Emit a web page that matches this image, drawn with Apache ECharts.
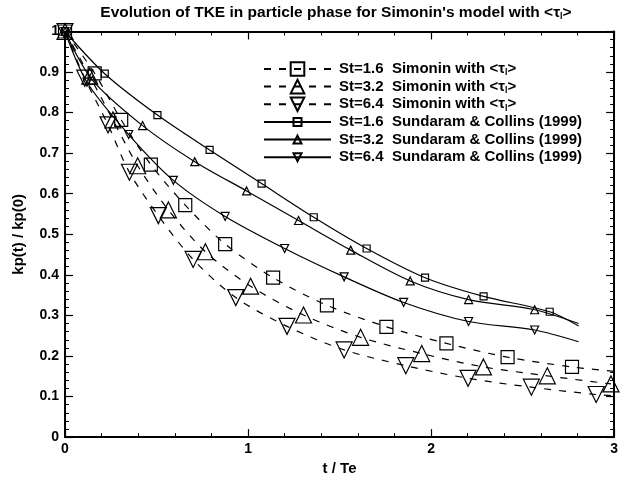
<!DOCTYPE html>
<html><head><meta charset="utf-8">
<script src="https://cdn.jsdelivr.net/npm/echarts@6/dist/echarts.min.js"></script>
<style>html,body{margin:0;padding:0;background:#fff}#c{width:621px;height:481px}</style>
</head><body><div id="c"></div><script>
// ---- data (t / Te, kp(t)/kp(0)) ----
var simT16 = [0, 0.162, 0.307, 0.469, 0.657, 0.875, 1.137, 1.431, 1.756, 2.084, 2.418, 2.77, 3.0];
var simV16 = [1, 0.897, 0.782, 0.672, 0.572, 0.476, 0.393, 0.325, 0.272, 0.231, 0.197, 0.173, 0.162];
var simT32 = [0, 0.135, 0.262, 0.397, 0.565, 0.767, 1.014, 1.303, 1.615, 1.949, 2.286, 2.635, 2.983];
var simV32 = [1, 0.89, 0.782, 0.669, 0.560, 0.457, 0.372, 0.301, 0.246, 0.206, 0.173, 0.151, 0.131];
var simT64 = [0, 0.108, 0.235, 0.352, 0.51, 0.70, 0.933, 1.213, 1.525, 1.862, 2.202, 2.548, 2.902, 3.0];
var simV64 = [1, 0.885, 0.770, 0.653, 0.546, 0.438, 0.344, 0.273, 0.215, 0.176, 0.145, 0.123, 0.105, 0.102];
var sunT16 = [0, 0.217, 0.505, 0.79, 1.074, 1.359, 1.648, 1.967, 2.287, 2.648, 2.806];
var sunV16 = [1, 0.896, 0.794, 0.708, 0.625, 0.542, 0.465, 0.393, 0.347, 0.309, 0.274];
var sunT32 = [0, 0.15, 0.424, 0.709, 0.992, 1.276, 1.561, 1.886, 2.205, 2.566, 2.806];
var sunV32 = [1, 0.88, 0.768, 0.679, 0.607, 0.534, 0.461, 0.385, 0.339, 0.314, 0.28];
var sunT64 = [0, 0.12, 0.348, 0.592, 0.875, 1.2, 1.525, 1.85, 2.205, 2.566, 2.806];
var sunV64 = [1, 0.875, 0.746, 0.633, 0.544, 0.465, 0.395, 0.332, 0.285, 0.264, 0.235];
var simNames = ['St=1.6  Simonin with <\u03c4l>', 'St=3.2  Simonin with <\u03c4l>', 'St=6.4  Simonin with <\u03c4l>'];
var sunNames = ['St=1.6  Sundaram & Collins (1999)', 'St=3.2  Sundaram & Collins (1999)', 'St=6.4  Sundaram & Collins (1999)'];
var titleText = 'Evolution of TKE in particle phase for Simonin\'s model with <\u03c4l>';
var xName = 't / Te', yName = 'kp(t) / kp(0)';

var FF = '"Liberation Sans", Arial, sans-serif';
function pts(ts, vs, lastIsEnd) {
  return ts.map(function (t, i) {
    if (lastIsEnd && i === ts.length - 1) return { value: [t, vs[i]], symbol: 'none' };
    return [t, vs[i]];
  });
}
function sub(s) { return s.replace('\u03c4l', '\u03c4{s|l}'); }
function richFor(lh) { return { s: { fontSize: 9, fontWeight: 'bold', fontFamily: FF, color: '#000', verticalAlign: 'bottom', lineHeight: lh } }; }
var markerStyle = { color: 'rgba(0,0,0,0)', borderColor: '#000', borderWidth: 1.2 };
function simSeries(name, ts, vs, sym, rot, end) {
  return { name: name, type: 'line', smooth: 0.3, data: pts(ts, vs, end), symbol: sym, symbolRotate: rot, symbolSize: sym === 'rect' ? 13 : 16,
    showAllSymbol: true, lineStyle: { color: '#000', width: 1.2, type: [7, 8] }, itemStyle: markerStyle, z: 3, animation: false };
}
function sunSeries(name, ts, vs, sym, rot) {
  return { name: name, type: 'line', smooth: 0.3, data: pts(ts, vs, true), symbol: sym, symbolRotate: rot, symbolSize: sym === 'rect' ? 7 : 8,
    showAllSymbol: true, lineStyle: { color: '#000', width: 1.2, type: 'solid' }, itemStyle: markerStyle, z: 3, animation: false };
}
var axLine = { show: true, onZero: false, lineStyle: { color: '#000', width: 2 } };
var lblStyle = { color: '#000', fontSize: 14, fontWeight: 'bold', fontFamily: FF };
function xAx(pos, showLbl) {
  return { type: 'value', min: 0, max: 3, interval: 1, position: pos, axisLine: axLine,
    axisTick: { show: true, inside: true, length: 8, lineStyle: { color: '#000', width: 1.2 } },
    minorTick: { show: true, splitNumber: 5, length: 4, lineStyle: { color: '#000', width: 1 } },
    splitLine: { show: false }, minorSplitLine: { show: false },
    axisLabel: showLbl ? Object.assign({ margin: 5 }, lblStyle) : { show: false },
    name: showLbl ? xName : '', nameLocation: 'middle', nameGap: 21,
    nameTextStyle: { color: '#000', fontSize: 15, fontWeight: 'bold', fontFamily: FF } };
}
function yAx(pos, showLbl) {
  return { type: 'value', min: 0, max: 1, interval: 0.1, position: pos, axisLine: axLine,
    axisTick: { show: true, inside: true, length: 8, lineStyle: { color: '#000', width: 1.2 } },
    minorTick: { show: true, splitNumber: 5, length: 4, lineStyle: { color: '#000', width: 1 } },
    splitLine: { show: false }, minorSplitLine: { show: false },
    axisLabel: showLbl ? Object.assign({ margin: 6 }, lblStyle) : { show: false },
    name: showLbl ? yName : '', nameLocation: 'middle', nameGap: 39,
    nameTextStyle: { color: '#000', fontSize: 15, fontWeight: 'bold', fontFamily: FF } };
}
var legText = { color: '#000', fontSize: 15, fontWeight: 'bold', fontFamily: FF, lineHeight: 17, padding: [0, 0, 0, 3], rich: richFor(17) };
var option = {
  backgroundColor: '#fff',
  animation: false,
  title: { text: sub(titleText), left: 336, textAlign: 'center', top: 4, padding: 0,
    textStyle: { color: '#000', fontSize: 15.5, fontWeight: 'bold', fontFamily: FF, lineHeight: 17, rich: richFor(17) } },
  grid: { left: 65, right: 2, top: 31.5, bottom: 36, containLabel: false },
  xAxis: [xAx('bottom', true), xAx('top', false)],
  yAxis: [yAx('left', true), yAx('right', false)],
  legend: [
    { data: simNames, orient: 'vertical', left: 263, top: 60.5, padding: 0, itemWidth: 67, itemHeight: 17, itemGap: 0.6,
      formatter: function (n) { return sub(n); }, textStyle: legText, selectedMode: false },
    { data: sunNames, orient: 'vertical', left: 263, top: 113.5, padding: 0, itemWidth: 67, itemHeight: 10, itemGap: 0.6,
      textStyle: legText, selectedMode: false }
  ],
  series: [
    simSeries(simNames[0], simT16, simV16, 'rect', 0, true),
    simSeries(simNames[1], simT32, simV32, 'triangle', 0, false),
    simSeries(simNames[2], simT64, simV64, 'triangle', 180, true),
    sunSeries(sunNames[0], sunT16, sunV16, 'rect', 0),
    sunSeries(sunNames[1], sunT32, sunV32, 'triangle', 0),
    sunSeries(sunNames[2], sunT64, sunV64, 'triangle', 180)
  ]
};
var chart = echarts.init(document.getElementById('c'), null, { renderer: 'canvas' });
chart.setOption(option);
</script></body></html>
